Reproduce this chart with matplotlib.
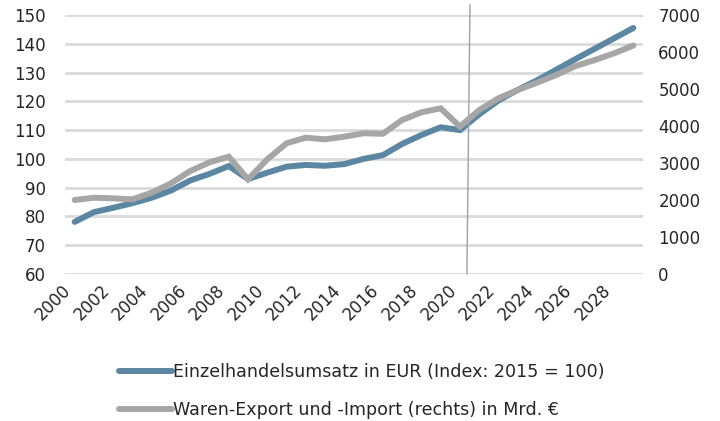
import numpy as np
import matplotlib
matplotlib.use("Agg")
import matplotlib.pyplot as plt

years = list(range(2000, 2030))

# Einzelhandelsumsatz, Index 2015 = 100 (linke Achse)
retail_index = [78.1, 81.5, 83.0, 84.6, 86.5, 89.0, 92.5, 94.8, 97.5, 93.0,
                95.2, 97.3, 97.9, 97.6, 98.2, 100.0, 101.3, 105.2, 108.3, 111.0,
                110.0, 115.5, 120.3, 124.0, 127.3, 131.0, 134.7, 138.3, 141.9, 145.5]

# Waren-Export und -Import in Mrd. EUR (rechte Achse)
trade_bn = [2000, 2062, 2045, 2018, 2198, 2450, 2784, 3018, 3171, 2560,
            3100, 3532, 3685, 3640, 3712, 3803, 3790, 4163, 4370, 4478,
            3982, 4433, 4749, 4974, 5171, 5379, 5622, 5784, 5965, 6175]

left_ticks = [60, 70, 80, 90, 100, 110, 120, 130, 140, 150]
right_ticks = [0, 1000, 2000, 3000, 4000, 5000, 6000, 7000]
label_years = years[::2][:15]
forecast_start = 20.4  # Trennlinie Ist / Prognose (Position auf der Kategorienachse)

blue = '#5B87A3'
grey = '#A6A6A6'
txt = '#262626'

plt.rcParams['font.family'] = ['DejaVu Sans']

fig = plt.figure(figsize=(7.2, 4.21), dpi=100)
ax = fig.add_axes([65 / 720, 147 / 421, 578 / 720, 259 / 421])
ax2 = ax.twinx()

x = np.arange(len(years))
l1, = ax.plot(x, retail_index, color=blue, lw=4.3, solid_capstyle='round',
              solid_joinstyle='miter', zorder=3,
              label='Einzelhandelsumsatz in EUR (Index: 2015 = 100)')
l2, = ax2.plot(x, trade_bn, color=grey, lw=4.3, solid_capstyle='round',
               solid_joinstyle='miter', zorder=2,
               label='Waren-Export und -Import (rechts) in Mrd. €')

ax.set_xlim(-0.5, len(years) - 0.5)
ax.set_ylim(60, 150)
ax2.set_ylim(0, 7000)
ax.set_yticks(left_ticks)
ax2.set_yticks(right_ticks)

ax.set_xticks(x[::2][:15])
ax.set_xticklabels([str(y) for y in label_years], rotation=45, ha='right')

ax.grid(axis='y', color='#D9D9D9', lw=2)
ax.set_axisbelow(True)

for a in (ax, ax2):
    for s in a.spines.values():
        s.set_visible(False)
    a.tick_params(length=0, labelsize=12, colors=txt)
ax.tick_params(axis='y', pad=14)
ax2.tick_params(axis='y', pad=11)
ax.tick_params(axis='x', pad=5)

# Trennlinie
ax2.plot([forecast_start + 0.12, forecast_start - 0.04], [7270, 0],
         color='#A0A0A0', lw=1, clip_on=False, zorder=1)

fig.legend(handles=[l1, l2], loc='center', bbox_to_anchor=(362 / 720, 0.071),
           frameon=False, fontsize=12.6, handlelength=3.0, handletextpad=0.1,
           labelspacing=1.1, labelcolor=txt)

fig.savefig('out.png', dpi=100)
